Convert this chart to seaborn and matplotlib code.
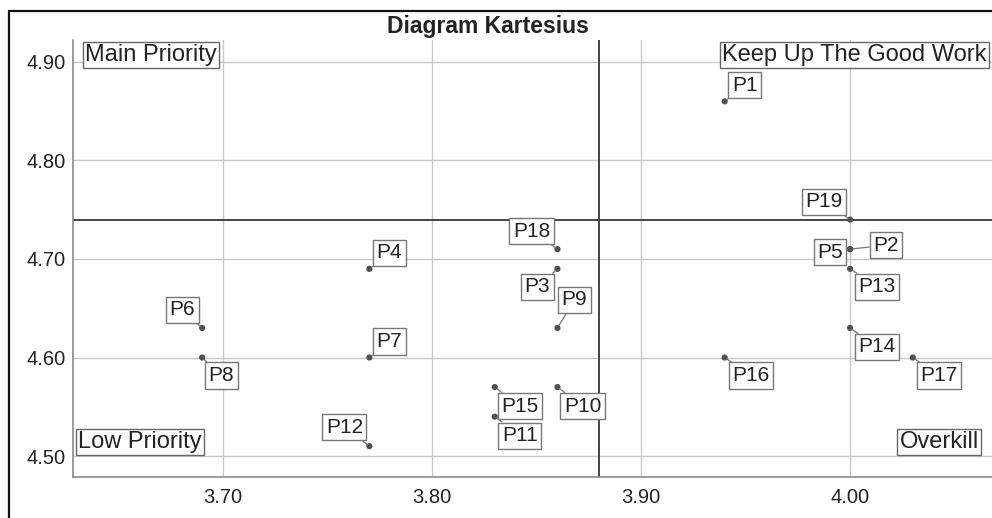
import matplotlib
matplotlib.use("Agg")
import matplotlib.pyplot as plt
import seaborn as sns
import pandas as pd
from matplotlib.patches import Rectangle

# ---- data ----
labels = ["P1", "P2", "P3", "P4", "P5", "P6", "P7", "P8", "P9", "P10",
          "P11", "P12", "P13", "P14", "P15", "P16", "P17", "P18", "P19"]
kinerja = [3.94, 4.00, 3.86, 3.77, 4.00, 3.69, 3.77, 3.69, 3.86, 3.86,
           3.83, 3.77, 4.00, 4.00, 3.83, 3.94, 4.03, 3.86, 4.00]
kepentingan = [4.86, 4.71, 4.69, 4.69, 4.71, 4.63, 4.60, 4.60, 4.63, 4.57,
               4.54, 4.51, 4.69, 4.63, 4.57, 4.60, 4.60, 4.71, 4.74]
x_ref = 3.88
y_ref = 4.74
x_ticks = [3.70, 3.80, 3.90, 4.00]
y_ticks = [4.50, 4.60, 4.70, 4.80, 4.90]
title = "Diagram Kartesius"
quadrants = ["Main Priority", "Keep Up The Good Work", "Low Priority", "Overkill"]

# ---- styling / label offsets (pixels: dx right, dy down) ----
offsets = {
    "P1": (20, -16), "P2": (36, -4), "P3": (-20, 18), "P4": (20, -16),
    "P5": (-20, 3), "P6": (-20, -18), "P7": (20, -16), "P8": (19, 18),
    "P9": (17, -28), "P10": (25, 19), "P11": (25, 19), "P12": (-25, -19),
    "P13": (27, 18), "P14": (27, 19), "P15": (25, 19), "P16": (26, 18),
    "P17": (26, 18), "P18": (-26, -18), "P19": (-26, -18),
}

df = pd.DataFrame({"label": labels, "x": kinerja, "y": kepentingan})

sns.set_style("whitegrid")
plt.rcParams["font.family"] = ["Liberation Sans", "DejaVu Sans"]

W, H = 992, 518
fig = plt.figure(figsize=(W / 100, H / 100), dpi=100)
ax = fig.add_axes([73 / W, 1 - 477 / H, 1 - 73 / W, (477 - 40) / H])

ax.set_xlim(3.6282, 4.0679)
ax.set_ylim(4.4787, 4.9223)
ax.set_xticks(x_ticks)
ax.set_yticks(y_ticks)
ax.set_xticklabels([f"{v:.2f}" for v in x_ticks])
ax.set_yticklabels([f"{v:.2f}" for v in y_ticks])
ax.tick_params(axis="both", length=0, labelsize=14.5, colors="#222222")
ax.tick_params(axis="x", pad=8)
ax.tick_params(axis="y", pad=5)
ax.grid(True, color="#c8c8c8", linewidth=1.0)
for s in ["top", "right"]:
    ax.spines[s].set_visible(False)
for s in ["left", "bottom"]:
    ax.spines[s].set_color("#8a8a8a")
    ax.spines[s].set_linewidth(1.2)

ax.axhline(y_ref, color="#444444", linewidth=1.4, zorder=2)
ax.axvline(x_ref, color="#444444", linewidth=1.4, zorder=2)

sns.scatterplot(data=df, x="x", y="y", ax=ax, color="#505050", s=20,
                edgecolor="none", zorder=4, legend=False)
ax.set_xlabel("")
ax.set_ylabel("")

box = dict(boxstyle="square,pad=0.17", fc="white", ec="#777777", lw=1.0)
for lab, xv, yv in zip(labels, kinerja, kepentingan):
    dx, dy = offsets[lab]
    ax.annotate(lab, xy=(xv, yv), xytext=(dx, -dy), textcoords="offset pixels",
                ha="center", va="center", fontsize=15, color="#222222",
                bbox=box, zorder=5,
                arrowprops=dict(arrowstyle="-", color="#777777", lw=0.9,
                                shrinkA=0, shrinkB=2))

qbox = dict(boxstyle="square,pad=0.1", fc="white", ec="#666666", lw=1.0)
qpos = [(85, 55, "left"), (987, 55, "right"), (78, 442, "left"), (979, 442, "right")]
for txt, (px, py, ha) in zip(quadrants, qpos):
    fig.text(px / W, 1 - py / H, txt, ha=ha, va="center", fontsize=17,
             color="#222222", bbox=qbox, zorder=6)

fig.text(488 / W, 1 - 27 / H, title, ha="center", va="center",
         fontsize=16.5, fontweight="bold", color="#222222")

# outer frame (only top/left visible in the crop)
fig.patches.append(Rectangle((9 / W, -0.1), 1.2, 1 - 11 / H + 0.1,
                             transform=fig.transFigure, fill=False,
                             ec="#111111", lw=1.6))

fig.savefig("out.png", dpi=100)
